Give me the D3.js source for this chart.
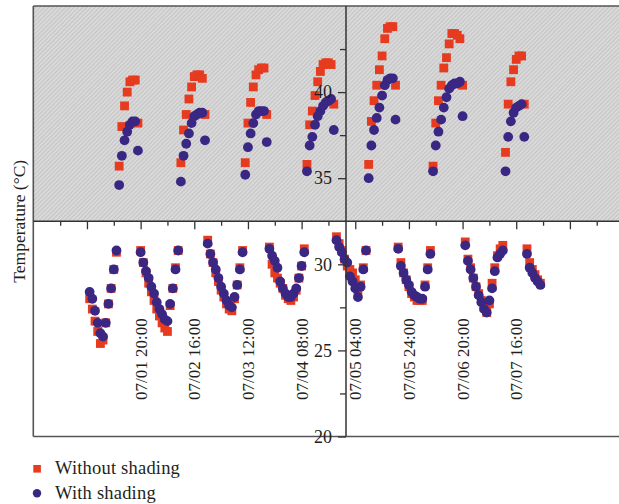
<!DOCTYPE html>
<html><head><meta charset="utf-8">
<script src="https://cdn.jsdelivr.net/npm/d3@7"></script>
<style>
html,body{margin:0;padding:0;background:#fff;}
svg{display:block;}
text{font-family:"Liberation Serif","Times New Roman",serif;fill:#231f20;}
</style></head><body>
<svg id="chart" width="619" height="504"></svg>
<script>
// hours since 07/01 00:00 (hourly readings)
const hours = [1,2,3,4,5,6,7,8,9,10,11,12,13,14,15,16,17,18,19,20,21,22,23,24,25,26,27,28,29,30,
31,32,33,34,35,36,37,38,39,40,41,42,43,44,45,46,47,48,49,50,51,52,53,54,55,56,57,58,59,60,
61,62,63,64,65,66,67,68,69,70,71,72,73,74,75,76,77,78,79,80,81,82,83,84,85,86,87,88,89,90,
91,92,93,94,95,96,97,98,99,100,101,102,103,104,105,106,107,108,109,110,111,112,113,114,115,116,117,118,119,120,
121,122,123,124,125,126,127,128,129,130,131,132,133,134,135,136,137,138,139,140,141,142,143,144,145,146,147,148,149,150,
151,152,153,154,155,156,157,158,159,160,161,162,163,164,165,166,167,168,169];

const withoutShading = [
28.0,27.4,26.7,26.1,25.4,25.6,26.6,27.7,28.6,29.7,30.7,
35.7,38.0,39.2,40.0,40.6,40.7,40.7,38.2,
30.8,30.1,29.5,28.9,28.4,27.9,27.4,27.0,26.6,26.3,26.1,27.6,28.6,29.8,30.8,
35.9,37.8,38.7,39.6,40.3,40.9,41.0,41.0,40.8,38.7,
31.4,30.6,30.1,29.5,29.0,28.5,28.1,27.7,27.4,27.3,28.0,28.8,29.8,30.8,
35.9,38.2,39.4,40.3,41.0,41.3,41.4,41.4,38.7,
31.0,30.0,29.5,29.2,28.9,28.6,28.2,28.0,27.9,28.1,28.5,29.2,29.9,30.9,
35.8,38.1,38.9,39.8,40.6,41.2,41.6,41.7,41.7,41.6,39.3,
31.6,31.2,30.8,30.3,29.9,29.7,29.5,29.1,28.5,28.8,29.8,30.8,
35.8,38.3,39.5,40.4,41.3,42.1,43.1,43.7,43.8,43.8,40.4,
31.0,30.1,29.5,29.1,28.7,28.3,28.1,27.9,27.9,27.9,28.8,29.8,30.8,
35.7,38.2,39.5,40.4,41.4,42.0,42.8,43.4,43.4,43.3,43.1,40.4,
31.3,30.3,29.8,29.2,28.7,28.3,27.9,27.5,27.2,27.7,28.9,29.8,30.5,30.9,31.1,
36.5,39.3,40.6,41.3,41.9,42.1,42.1,39.3,
30.9,30.1,29.7,29.4,29.1,28.9];

const withShading = [
28.4,28.0,27.3,26.6,26.0,25.8,26.6,27.7,28.6,29.7,30.8,
34.6,36.3,37.2,37.7,38.1,38.3,38.3,36.6,
30.7,30.1,29.6,29.2,28.7,28.3,27.8,27.4,27.1,26.8,26.7,27.7,28.6,29.7,30.8,
34.8,36.3,37.0,37.6,38.2,38.6,38.7,38.8,38.8,37.2,
31.2,30.6,30.1,29.7,29.2,28.7,28.3,27.9,27.6,27.5,28.1,28.8,29.7,30.7,
35.2,36.8,37.6,38.2,38.7,38.9,38.9,38.9,37.1,
30.9,30.5,30.2,29.8,29.0,28.6,28.3,28.1,28.1,28.3,28.6,29.2,29.9,30.7,
35.4,36.9,37.4,38.1,38.6,38.9,39.2,39.4,39.5,39.6,37.8,
31.4,31.0,30.7,30.3,30.1,29.3,29.0,28.6,28.1,28.7,29.7,30.8,
35.0,36.9,37.8,38.5,39.1,39.8,40.4,40.7,40.8,40.8,38.4,
30.9,29.9,29.5,29.1,28.8,28.4,28.2,28.1,28.0,28.0,28.7,29.7,30.6,
35.4,36.9,37.7,38.4,39.1,39.7,40.2,40.4,40.5,40.5,40.6,38.6,
31.1,30.2,29.7,29.2,28.7,28.2,27.8,27.4,27.2,27.9,28.6,29.6,30.4,30.6,30.8,
35.4,37.4,38.3,38.8,39.1,39.2,39.3,37.4,
30.6,29.8,29.5,29.2,29.0,28.8];

const seriesNames = ["Without shading", "With shading"];
const seriesColors = ["#e63b1f", "#3a2783"];
const yTicks = [20, 25, 30, 35, 40];
const yMinorTicks = [22.5, 27.5, 37.5, 42.5];
const xMajorHours = [0, 20, 40, 60, 80, 100, 120, 140, 160, 180];
const xTickLabels = ["", "07/01 20:00", "07/02 16:00", "07/03 12:00", "07/04 08:00",
  "07/05 04:00", "07/05 24:00", "07/06 20:00", "07/07 16:00", ""];
const xMinorHours = [-10, 10, 30, 50, 70, 90, 110, 130, 150, 170, 190];
const yTitle = "Temperature (°C)";
const shadeFrom = 32.5;

const W = 619, H = 504;
const svg = d3.select("#chart");
const x = d3.scaleLinear().domain([-20, 200]).range([33.3, 33.3 + 220 * 2.683]);
const y = d3.scaleLinear().domain([20, 45]).range([436.5, 6]);

// hatch pattern
const defs = svg.append("defs");
const pat = defs.append("pattern").attr("id", "hatch").attr("patternUnits", "userSpaceOnUse")
  .attr("width", 3).attr("height", 3).attr("patternTransform", "rotate(45)");
pat.append("rect").attr("width", 3).attr("height", 3).attr("fill", "#dbdbdb");
pat.append("line").attr("x1", 0.6).attr("y1", 0).attr("x2", 0.6).attr("y2", 3)
  .attr("stroke", "#c3c3c3").attr("stroke-width", 1.1);

const x0 = x(-20);
svg.append("rect").attr("x", x0).attr("y", y(45)).attr("width", W - x0)
  .attr("height", y(shadeFrom) - y(45)).attr("fill", "url(#hatch)");

// frame
const frame = svg.append("g").attr("stroke", "#555").attr("stroke-width", 1.6);
frame.append("line").attr("x1", x0).attr("x2", W).attr("y1", y(45)).attr("y2", y(45));
frame.append("line").attr("x1", x0).attr("x2", W).attr("y1", y(20)).attr("y2", y(20));
frame.append("line").attr("x1", x0).attr("x2", x0).attr("y1", y(45)).attr("y2", y(20));

// points
const pts = hours.map((h, i) => ({h, a: withoutShading[i], b: withShading[i]}));
svg.append("g").selectAll("rect").data(pts).join("rect")
  .attr("x", d => x(d.h) - 4.4).attr("y", d => y(d.a) - 4.4)
  .attr("width", 8.8).attr("height", 8.8).attr("fill", seriesColors[0]);
svg.append("g").selectAll("circle").data(pts).join("circle")
  .attr("cx", d => x(d.h)).attr("cy", d => y(d.b)).attr("r", 4.9)
  .attr("fill", seriesColors[1]);

// x axis on the divider line
const yDiv = y(shadeFrom);
const xAxisMajor = d3.axisBottom(x).tickValues(xMajorHours).tickSize(8).tickSizeOuter(0)
  .tickFormat((d, i) => xTickLabels[i]);
const gx = svg.append("g").attr("transform", `translate(0,${yDiv})`).call(xAxisMajor);
gx.select(".domain").remove();
gx.selectAll(".tick line").attr("stroke", "#333").attr("stroke-width", 1.3);
gx.selectAll(".tick text").attr("transform", "rotate(-90)")
  .attr("x", -97).attr("y", 5.5).attr("dy", 0).attr("text-anchor", "end")
  .attr("font-size", 17).attr("font-family", "Liberation Serif").attr("fill", "#231f20");
const gxm = svg.append("g").attr("transform", `translate(0,${yDiv})`)
  .call(d3.axisBottom(x).tickValues(xMinorHours).tickSize(4.5).tickSizeOuter(0).tickFormat(""));
gxm.select(".domain").remove();
gxm.selectAll(".tick line").attr("stroke", "#333").attr("stroke-width", 1.3);
svg.append("line").attr("x1", x0).attr("x2", W).attr("y1", yDiv).attr("y2", yDiv)
  .attr("stroke", "#333").attr("stroke-width", 1.5);

// y axis in the middle
const xAx = 346;
const gy = svg.append("g").attr("transform", `translate(${xAx},0)`)
  .call(d3.axisLeft(y).tickValues(yTicks).tickSize(8).tickPadding(6).tickSizeOuter(0).tickFormat(d3.format("d")));
gy.select(".domain").remove();
gy.selectAll(".tick line").attr("stroke", "#333").attr("stroke-width", 1.3);
gy.selectAll(".tick text").attr("font-size", 18).attr("font-family", "Liberation Serif").attr("fill", "#231f20");
const gym = svg.append("g").attr("transform", `translate(${xAx},0)`)
  .call(d3.axisLeft(y).tickValues(yMinorTicks).tickSize(6).tickSizeOuter(0).tickFormat(""));
gym.select(".domain").remove();
gym.selectAll(".tick line").attr("stroke", "#333").attr("stroke-width", 1.3);
svg.append("line").attr("x1", xAx).attr("x2", xAx).attr("y1", y(45)).attr("y2", y(20))
  .attr("stroke", "#333").attr("stroke-width", 1.5);

// y title
svg.append("text").attr("transform", `translate(24.5,${(y(45) + y(20)) / 2}) rotate(-90)`)
  .attr("text-anchor", "middle").attr("font-size", 17.5).text(yTitle);

// legend
const lg = svg.append("g");
lg.append("rect").attr("x", 33.3).attr("y", 465).attr("width", 7.6).attr("height", 7.6).attr("fill", seriesColors[0]);
lg.append("text").attr("x", 55).attr("y", 474).attr("font-size", 18.5).attr("letter-spacing", 0.2).text(seriesNames[0]);
lg.append("circle").attr("cx", 37).attr("cy", 493.3).attr("r", 4.2).attr("fill", seriesColors[1]);
lg.append("text").attr("x", 55).attr("y", 498.5).attr("font-size", 18.5).attr("letter-spacing", 0.2).text(seriesNames[1]);
</script>
</body></html>
